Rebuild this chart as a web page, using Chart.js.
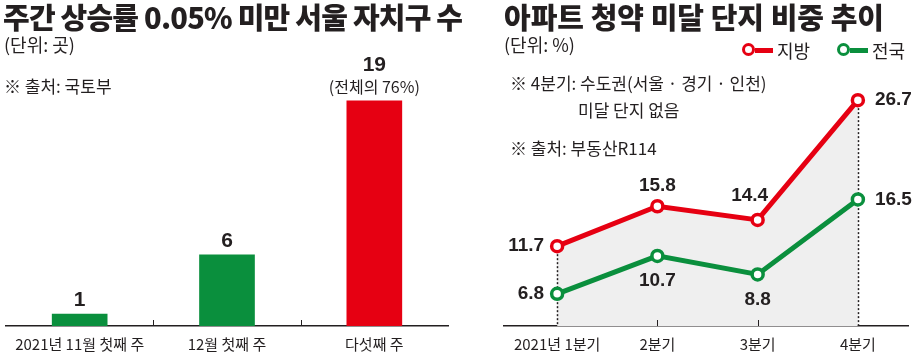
<!DOCTYPE html>
<html><head><meta charset="utf-8">
<script src="https://cdn.jsdelivr.net/npm/chart.js@4"></script>
<style>
body{margin:0;width:917px;height:357px;overflow:hidden;background:#fff;font-family:"Noto Sans CJK KR",sans-serif;color:#231f20;position:relative}
.t{position:absolute;white-space:nowrap;line-height:1}
.title{font-size:29px;font-weight:900}
.sub{font-size:17px;font-weight:400}
.leg{position:absolute;display:flex;align-items:center;font-size:18px;line-height:1}
.mk{display:inline-block;position:relative;width:31px;height:14px;margin-right:4px}
.mk .c{position:absolute;left:0;top:0;width:7px;height:7px;border-radius:50%;border:3.5px solid;background:#fff}
.mk .l{position:absolute;left:13px;top:4.5px;width:18px;height:5px}
</style></head><body>
<div style="position:absolute;left:0;top:0;width:460px;height:357px"><canvas id="c1"></canvas></div>
<div style="position:absolute;left:460px;top:0;width:457px;height:357px"><canvas id="c2"></canvas></div>

<div class="t title" style="left:3px;top:2px;letter-spacing:-0.8px">주간 상승률 0.05% 미만 서울 자치구 수</div>
<div class="t sub" style="left:4px;top:35px;font-size:18px">(단위: 곳)</div>
<div class="t sub" style="left:4px;top:77px">※ 출처: 국토부</div>

<div class="t title" style="left:504px;top:2px">아파트 청약 미달 단지 비중 추이</div>
<div class="t sub" style="left:504px;top:35px;font-size:18px">(단위: %)</div>
<div class="leg" style="left:742px;top:41px"><span class="mk"><span class="c" style="border-color:#e60012"></span><span class="l" style="background:#e60012"></span></span>지방</div>
<div class="leg" style="left:837px;top:41px"><span class="mk"><span class="c" style="border-color:#0a8f3d"></span><span class="l" style="background:#0a8f3d"></span></span>전국</div>
<div class="t sub" style="left:510px;top:74px">※ 4분기: 수도권(서울 · 경기 · 인천)</div>
<div class="t sub" style="left:578px;top:101px">미달 단지 없음</div>
<div class="t sub" style="left:510px;top:139px">※ 출처: 부동산R114</div>

<script>
// ---- data ----
const barCategories = ['2021년 11월 첫째 주', '12월 첫째 주', '다섯째 주'];
const barValues = [1, 6, 19];
const barNotes = ['', '', '(전체의 76%)'];

const quarters = ['2021년 1분기', '2분기', '3분기', '4분기'];
const regionalValues = [11.7, 15.8, 14.4, 26.7];   // 지방
const nationalValues = [6.8, 10.7, 8.8, 16.5];     // 전국

const INK = '#231f20', RED = '#e60012', GREEN = '#0a8f3d';

// ---- left bar chart ----
const barLabelPlugin = {
  id: 'barLabels',
  afterDatasetsDraw(chart) {
    const ctx = chart.ctx;
    const meta = chart.getDatasetMeta(0);
    ctx.save();
    ctx.fillStyle = INK;
    ctx.textAlign = 'center';
    ctx.textBaseline = 'middle';
    meta.data.forEach((bar, i) => {
      let y = bar.y - 14;
      if (barNotes[i]) {
        ctx.font = '400 16px "Noto Sans CJK KR"';
        ctx.fillText(barNotes[i], bar.x, y);
        y -= 22;
      }
      ctx.font = 'bold 21px "Liberation Sans"';
      ctx.fillText(String(barValues[i]), bar.x, y);
    });
    const xs = chart.scales.x, b = chart.chartArea.bottom;
    ctx.strokeStyle = INK; ctx.lineWidth = 1;
    for (let i = 0; i < barCategories.length - 1; i++) {
      const x = Math.round((xs.getPixelForTick(i) + xs.getPixelForTick(i + 1)) / 2) + 0.5;
      ctx.beginPath(); ctx.moveTo(x, b - 6); ctx.lineTo(x, b); ctx.stroke();
    }
    ctx.restore();
  }
};

new Chart(document.getElementById('c1'), {
  type: 'bar',
  data: {
    labels: barCategories,
    datasets: [{
      data: barValues,
      backgroundColor: [GREEN, GREEN, RED],
      barThickness: 55
    }]
  },
  options: {
    responsive: true, maintainAspectRatio: false, animation: false,
    layout: { padding: { top: 77, left: 6, right: 12, bottom: 0 } },
    plugins: { legend: { display: false }, tooltip: { enabled: false } },
    scales: {
      x: {
        grid: { display: false },
        border: { display: true, color: INK, width: 1.5 },
        ticks: { color: INK, font: { family: '"Noto Sans CJK KR"', size: 15 }, padding: 1, maxRotation: 0 },
        afterFit(s) { s.height = 31; }
      },
      y: { display: false, min: 0, max: 21 }
    }
  },
  plugins: [barLabelPlugin]
});

// ---- right line chart ----
const placements = [
  ['left', 'top', 'topleft', 'right'],
  ['left', 'bottom', 'bottom', 'right']
];
const lineExtras = {
  id: 'lineExtras',
  beforeDatasetsDraw(chart) {
    const ctx = chart.ctx, b = chart.chartArea.bottom;
    const red = chart.getDatasetMeta(0).data;
    ctx.save();
    ctx.strokeStyle = INK; ctx.lineWidth = 1.5; ctx.setLineDash([2, 2]);
    [0, quarters.length - 1].forEach(i => {
      const x = Math.round(red[i].x) + 0.5;
      ctx.beginPath(); ctx.moveTo(x, red[i].y); ctx.lineTo(x, b); ctx.stroke();
    });
    ctx.setLineDash([]); ctx.lineWidth = 1;
    for (let i = 1; i < quarters.length - 1; i++) {
      const x = Math.round(red[i].x) + 0.5;
      ctx.beginPath(); ctx.moveTo(x, b - 6); ctx.lineTo(x, b); ctx.stroke();
    }
    ctx.restore();
  },
  afterDatasetsDraw(chart) {
    const ctx = chart.ctx;
    ctx.save();
    ctx.fillStyle = INK;
    ctx.font = 'bold 19px "Liberation Sans"';
    ctx.textBaseline = 'middle';
    const series = [regionalValues, nationalValues];
    series.forEach((vals, d) => {
      const pts = chart.getDatasetMeta(d).data;
      pts.forEach((p, i) => {
        const txt = vals[i].toFixed(1);
        const pl = placements[d][i];
        let x = p.x, y = p.y;
        if (pl === 'left') { ctx.textAlign = 'right'; x -= 13; }
        else if (pl === 'right') { ctx.textAlign = 'left'; x += 17; }
        else if (pl === 'top') { ctx.textAlign = 'center'; y -= 20; }
        else if (pl === 'bottom') { ctx.textAlign = 'center'; y += 25; }
        else if (pl === 'topleft') { ctx.textAlign = 'center'; x -= 8; y -= 24; }
        ctx.fillText(txt, x, y);
      });
    });
    ctx.restore();
  }
};

const mkPoints = vals => vals.map((v, i) => ({ x: i, y: v }));

new Chart(document.getElementById('c2'), {
  type: 'line',
  data: {
    datasets: [
      {
        label: '지방', data: mkPoints(regionalValues),
        borderColor: RED, borderWidth: 5,
        pointRadius: 5.5, pointBorderWidth: 3.5, pointBackgroundColor: '#fff', pointBorderColor: RED,
        fill: 'start', backgroundColor: '#efefef', tension: 0
      },
      {
        label: '전국', data: mkPoints(nationalValues),
        borderColor: GREEN, borderWidth: 5,
        pointRadius: 5.5, pointBorderWidth: 3.5, pointBackgroundColor: '#fff', pointBorderColor: GREEN,
        fill: false, tension: 0
      }
    ]
  },
  options: {
    responsive: true, maintainAspectRatio: false, animation: false,
    layout: { padding: { top: 68, left: 44, right: 0, bottom: 0 } },
    plugins: { legend: { display: false }, tooltip: { enabled: false }, filler: { drawTime: 'beforeDatasetsDraw' } },
    scales: {
      x: {
        type: 'linear', min: -0.53, max: 3.5,
        afterBuildTicks(s) { s.ticks = quarters.map((q, i) => ({ value: i })); },
        grid: { display: false },
        border: { display: true, color: INK, width: 1.5 },
        ticks: { color: INK, font: { family: '"Noto Sans CJK KR"', size: 15 }, padding: 1, maxRotation: 0, autoSkip: false,
                 callback: (v) => quarters[v] },
        afterFit(s) { s.height = 31; }
      },
      y: { display: false, min: 3.5, max: 30 }
    }
  },
  plugins: [lineExtras]
});
</script>
</body></html>
